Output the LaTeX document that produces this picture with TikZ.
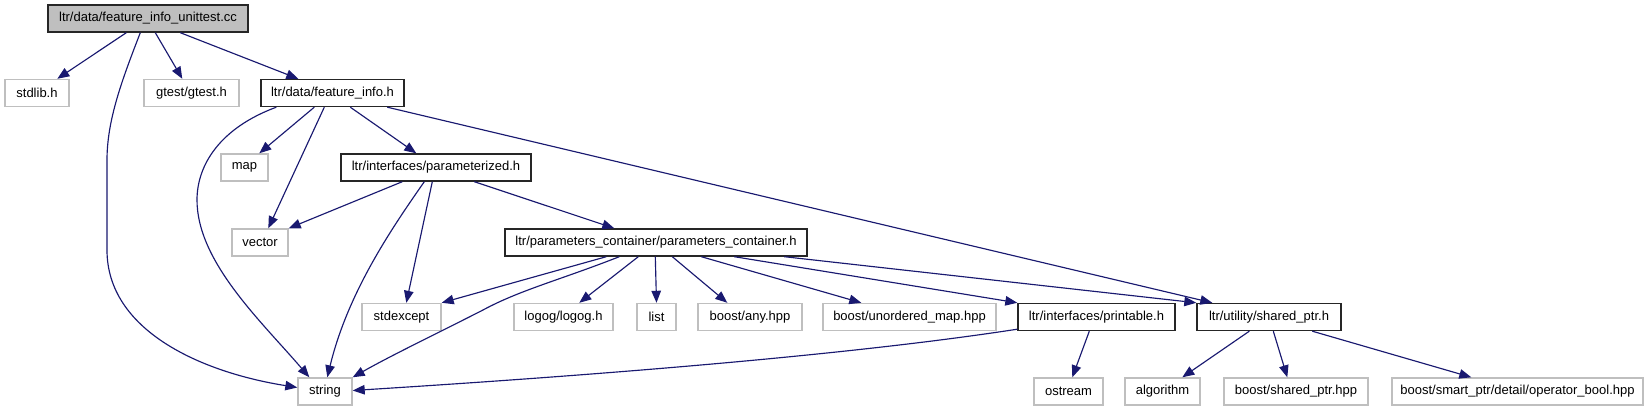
\documentclass[tikz,border=0pt]{standalone}
\usepackage{fontspec}
\setmainfont{Liberation Sans}
\usetikzlibrary{arrows.meta}
\definecolor{edgeblue}{HTML}{191970}
\definecolor{greyline}{HTML}{BFBFBF}
\tikzset{
  box/.style={draw=black!85,line width=1.4pt,inner sep=0pt,minimum height=27pt,font=\fontsize{13}{15}\selectfont,text=black},
  ext/.style={draw=greyline,line width=1.4pt,inner sep=0pt,minimum height=27pt,font=\fontsize{13}{15}\selectfont,text=black},
  rootbox/.style={box,fill=greyline},
  dep/.style={draw=edgeblue,line width=1.15pt,-{Triangle[length=12pt,width=9.5pt]}},
}
\begin{document}
\begin{tikzpicture}[x=1pt,y=-1pt]
\useasboundingbox (0,0) rectangle (1651,411);
% row 0
\node[rootbox,minimum width=200pt] (root) at (148,18.5) {ltr/data/feature\_info\_unittest.cc};
% row 1
\node[ext,minimum width=64pt] (stdlib) at (37,93) {stdlib.h};
\node[ext,minimum width=95pt] (gtest) at (191.5,93) {gtest/gtest.h};
\node[box,minimum width=143pt] (fi) at (332.5,93) {ltr/data/feature\_info.h};
% row 2
\node[ext,minimum width=47pt] (map) at (244.5,167.5) {map};
\node[box,minimum width=190pt] (param) at (436,167.5) {ltr/interfaces/parameterized.h};
% row 3
\node[ext,minimum width=56pt] (vector) at (260,242.5) {vector};
\node[box,minimum width=302pt] (pc) at (656,242.5) {ltr/parameters\_container/parameters\_container.h};
% row 4
\node[ext,minimum width=79pt] (stdexcept) at (401.5,317) {stdexcept};
\node[ext,minimum width=99pt] (logog) at (563.5,317) {logog/logog.h};
\node[ext,minimum width=39pt] (list) at (656.5,317) {list};
\node[ext,minimum width=104pt] (any) at (750,317) {boost/any.hpp};
\node[ext,minimum width=173pt] (umap) at (909.5,317) {boost/unordered\_map.hpp};
\node[box,minimum width=157pt] (printable) at (1096.5,317) {ltr/interfaces/printable.h};
\node[box,minimum width=144pt] (sptr) at (1269,317) {ltr/utility/shared\_ptr.h};
% row 5
\node[ext,minimum width=54pt] (string) at (325,391.5) {string};
\node[ext,minimum width=69pt] (ostream) at (1068.5,391.5) {ostream};
\node[ext,minimum width=75pt] (algorithm) at (1162.5,391.5) {algorithm};
\node[ext,minimum width=144pt] (bsptr) at (1296,391.5) {boost/shared\_ptr.hpp};
\node[ext,minimum width=251pt] (opbool) at (1517.5,391.5) {boost/smart\_ptr/detail/operator\_bool.hpp};

% root edges
\draw[dep] ([xshift=79pt]root.south west) -- ([xshift=53pt]stdlib.north west);
\draw[dep] ([xshift=108pt]root.south west) -- ([xshift=39pt]gtest.north west);
\draw[dep] ([xshift=133pt]root.south west) -- ([xshift=38pt]fi.north west);
\draw[dep] ([xshift=93pt]root.south west) .. controls (122,80) and (107,120) .. (107,160) -- (107,250) .. controls (107,330) and (200,372) .. ([yshift=4pt]string.west);
% feature_info edges
\draw[dep] ([xshift=16pt]fi.south west) .. controls (220,128) and (197,165) .. (197,200) .. controls (197,262) and (262,322) .. ([xshift=12pt]string.north west);
\draw[dep] ([xshift=54pt]fi.south west) -- ([xshift=39pt]map.north west);
\draw[dep] ([xshift=64pt]fi.south west) -- ([xshift=37pt]vector.north west);
\draw[dep] ([xshift=90pt]fi.south west) -- ([xshift=76pt]param.north west);
\draw[dep] ([xshift=127pt]fi.south west) -- ([xshift=16pt]sptr.north west);
% parameterized edges
\draw[dep] ([xshift=62pt]param.south west) -- (vector.north east);
\draw[dep] ([xshift=92pt]param.south west) -- ([xshift=45pt]stdexcept.north west);
\draw[dep] ([xshift=84pt]param.south west) .. controls (392,228) and (348,292) .. ([xshift=30pt]string.north west);
\draw[dep] ([xshift=134pt]param.south west) -- ([xshift=110pt]pc.north west);
% parameters_container edges
\draw[dep] ([xshift=102pt]pc.south west) -- (stdexcept.north east);
\draw[dep] ([xshift=115pt]pc.south west) .. controls (560,280) and (520,290) .. (483,310) .. controls (440,332) and (392,355) .. (string.north east);
\draw[dep] ([xshift=134pt]pc.south west) -- ([xshift=66pt]logog.north west);
\draw[dep] ([xshift=151pt]pc.south west) -- (list.north);
\draw[dep] ([xshift=168pt]pc.south west) -- ([xshift=30pt]any.north west);
\draw[dep] ([xshift=197pt]pc.south west) -- ([xshift=39pt]umap.north west);
\draw[dep] ([xshift=230pt]pc.south west) -- (printable.north west);
\draw[dep] ([xshift=280pt]pc.south west) -- (sptr.north west);
% printable edges
\draw[dep] ([yshift=2pt]printable.south west) .. controls (850,355) and (600,375) .. ([yshift=1pt]string.east);
\draw[dep] ([xshift=72pt]printable.south west) -- ([xshift=39pt]ostream.north west);
% shared_ptr edges
\draw[dep] ([xshift=53pt]sptr.south west) -- ([xshift=58pt]algorithm.north west);
\draw[dep] ([xshift=77pt]sptr.south west) -- ([xshift=64pt]bsptr.north west);
\draw[dep] ([xshift=116pt]sptr.south west) -- ([xshift=80pt]opbool.north west);
\end{tikzpicture}
\end{document}
